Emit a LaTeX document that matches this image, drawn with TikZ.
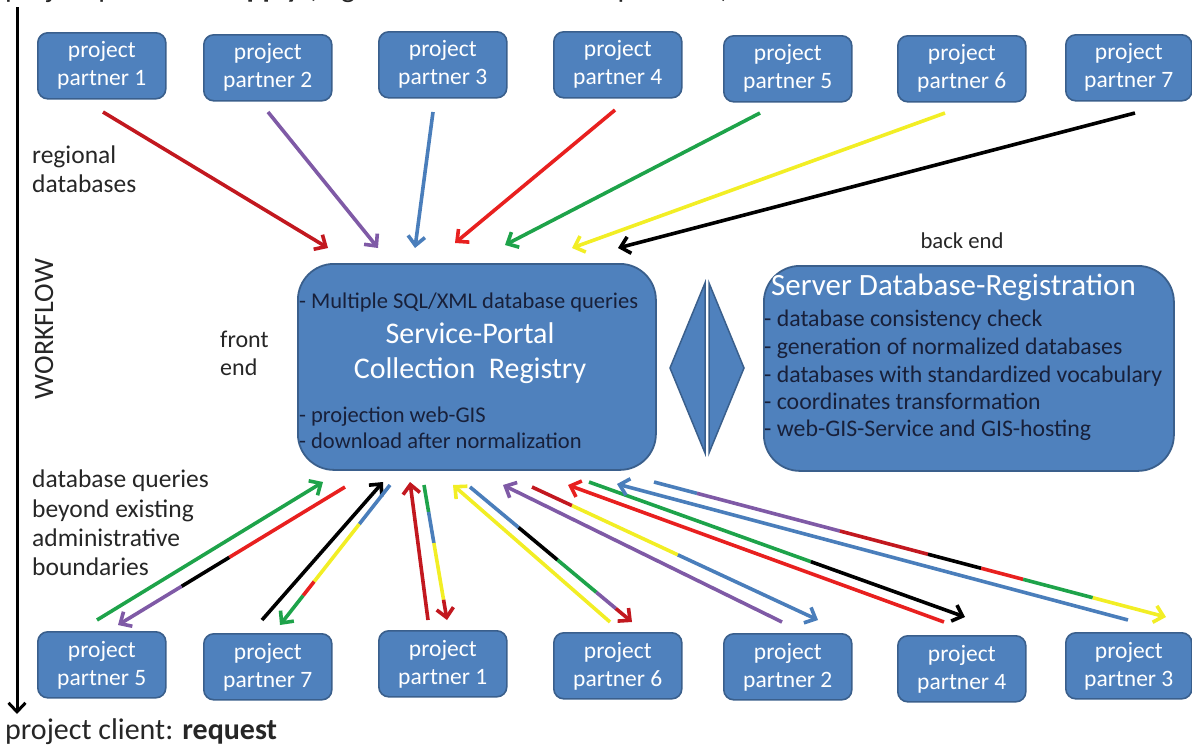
\documentclass[tikz,border=0pt]{standalone}
\usepackage{fontspec}
\setmainfont{Carlito}
\usetikzlibrary{arrows.meta,calc}

\definecolor{boxfill}{HTML}{4F81BD}
\definecolor{boxline}{HTML}{3A5F8C}
\definecolor{navy}{HTML}{18203A}
\definecolor{cred}{HTML}{E8201F}
\definecolor{dred}{HTML}{C2181F}
\definecolor{cpurple}{HTML}{7F5AA6}
\definecolor{cblue}{HTML}{4A7EBB}
\definecolor{cgreen}{HTML}{1EA34A}
\definecolor{cyellow}{HTML}{F2EE25}

% draws a straight connector split into coloured pieces; the last piece carries the head
% #1 start, #2 end, #3 list of from/to/colour pieces, #4 from of last piece, #5 its colour
\newcommand{\piecedarrow}[5]{%
  \foreach \fa/\fb/\col in {#3}{%
    \draw[seg, draw=\col] ($(#1)!\fa!(#2)$) -- ($(#1)!\fb!(#2)$);
  }%
  \draw[flow, draw=#5] ($(#1)!#4!(#2)$) -- (#2);
}

\begin{document}
\begin{tikzpicture}[x=1pt, y=-1pt,
  partner/.style={draw=boxline, line width=1.6pt, fill=boxfill, rounded corners=10pt,
    minimum width=128pt, minimum height=66pt, inner sep=0pt, text=white, align=center,
    font=\fontsize{23.5}{28}\selectfont, anchor=north west},
  bigbox/.style={draw=boxline, line width=1.8pt, fill=boxfill, rounded corners=36pt,
    inner sep=0pt, anchor=north west},
  darktext/.style={text=navy, inner sep=0pt, anchor=base west, font=\fontsize{22.5}{27}\selectfont},
  righttext/.style={text=navy, inner sep=0pt, anchor=base west, font=\fontsize{23.8}{27}\selectfont},
  titletext/.style={text=white, inner sep=0pt, anchor=base, font=\fontsize{30}{34}\selectfont},
  label/.style={text=black!85, inner sep=0pt, anchor=base west, font=\fontsize{25.5}{30}\selectfont},
  seg/.style={line width=3.6pt, line cap=butt},
  flow/.style={line width=3.6pt, -{Straight Barb[length=9pt, width=17pt]}},
  wedge/.style={draw=boxline, line width=1.5pt, fill=boxfill, line join=miter}
]
\useasboundingbox (0,0) rectangle (1192,745);

% heading line (runs over the upper edge) and vertical workflow axis
\node[inner sep=0pt, anchor=base west, font=\fontsize{30}{34}\selectfont, text=black!85] (head) at (5,-3)
  {project partners: \textbf{supply} (regional databases of all partners)};
\coordinate (axtop) at (17,7);
\coordinate (axbot) at (17,714);
\draw[line width=3pt, -{Straight Barb[length=9pt, width=17pt]}] (axtop) -- (axbot);
\node[rotate=90, anchor=base, inner sep=0pt, font=\fontsize{28}{32}\selectfont, text=black!85] (wf) at (53,329) {WORKFLOW};
\node[inner sep=0pt, anchor=base west, font=\fontsize{30}{34}\selectfont, text=black!85] (client) at (5,739)
  {project client: \textbf{request}};

% supplying partners
\node[partner] (t1) at (37,32)   {project\\partner 1};
\node[partner] (t2) at (203,34)  {project\\partner 2};
\node[partner] (t3) at (378,31)  {project\\partner 3};
\node[partner] (t4) at (553,31)  {project\\partner 4};
\node[partner] (t5) at (723,35)  {project\\partner 5};
\node[partner] (t6) at (897,35)  {project\\partner 6};
\node[partner, minimum width=126pt] (t7) at (1065,34) {project\\partner 7};

% requesting partners
\node[partner] (b5) at (37,631)  {project\\partner 5};
\node[partner] (b7) at (203,633) {project\\partner 7};
\node[partner] (b1) at (378,630) {project\\partner 1};
\node[partner] (b6) at (553,632) {project\\partner 6};
\node[partner] (b2) at (723,633) {project\\partner 2};
\node[partner] (b4) at (897,635) {project\\partner 4};
\node[partner, minimum width=126pt] (b3) at (1065,632) {project\\partner 3};

% side labels
\node[label] (reg1) at (32,163) {regional};
\node[label] (reg2) at (32,192) {databases};
\node[label, font=\fontsize{24}{28}\selectfont] (fe1) at (220,347) {front};
\node[label, font=\fontsize{24}{28}\selectfont] (fe2) at (220,375) {end};
\node[label, anchor=base, font=\fontsize{22.7}{27}\selectfont] (be) at (962,248) {back end};
\node[label] (q1) at (32,487) {database queries};
\node[label] (q2) at (32,517) {beyond existing};
\node[label] (q3) at (32,546) {administrative};
\node[label] (q4) at (32,575) {boundaries};

% front end portal
\node[bigbox, minimum width=358pt, minimum height=206pt] (portal) at (297,263) {};
\node[darktext] (p1) at (299,308) {- Multiple SQL/XML database queries};
\node[titletext] (p2) at (470,343) {Service-Portal};
\node[titletext] (p3) at (470,378) {Collection\ \ Registry};
\node[darktext] (p4) at (299,422) {- projection web-GIS};
\node[darktext] (p5) at (299,448) {- download after normalization};

% back end server
\node[bigbox, minimum width=410pt, minimum height=205pt] (server) at (763,265) {};
\node[titletext, anchor=base west, font=\fontsize{31}{34}\selectfont] (s0) at (771,295) {Server Database-Registration};
\node[righttext] (s1) at (764,326) {- database consistency check};
\node[righttext] (s2) at (764,354) {- generation of normalized databases};
\node[righttext] (s3) at (764,382) {- databases with standardized vocabulary};
\node[righttext] (s4) at (764,409) {- coordinates transformation};
\node[righttext] (s5) at (764,436) {- web-GIS-Service and GIS-hosting};

% exchange symbol between front end and back end
\draw[wedge] (670,368) -- (705,283) -- (705,453) -- cycle;
\draw[wedge] (709,283) -- (744,368) -- (709,453) -- cycle;

% regional databases flowing into the portal
\coordinate (u1) at (103,112);  \coordinate (v1) at (328,248);
\coordinate (u2) at (268,112);  \coordinate (v2) at (378,248);
\coordinate (u3) at (433,112);  \coordinate (v3) at (415,248);
\coordinate (u4) at (615,110);  \coordinate (v4) at (455,243);
\coordinate (u5) at (760,113);  \coordinate (v5) at (505,245);
\coordinate (u6) at (945,113);  \coordinate (v6) at (572,248);
\coordinate (u7) at (1135,113); \coordinate (v7) at (618,248);
\draw[flow, draw=dred] (u1) -- (v1);
\draw[flow, draw=cpurple] (u2) -- (v2);
\draw[flow, draw=cblue] (u3) -- (v3);
\draw[flow, draw=cred] (u4) -- (v4);
\draw[flow, draw=cgreen] (u5) -- (v5);
\draw[flow, draw=cyellow] (u6) -- (v6);
\draw[flow, draw=black] (u7) -- (v7);

% queries between the portal and the requesting partners
\coordinate (aS) at (97,620);   \coordinate (aE) at (323,482);
\coordinate (bS) at (345,487);  \coordinate (bE) at (118,625);
\coordinate (cS) at (262,620);  \coordinate (cE) at (383,482);
\coordinate (dS) at (390,485);  \coordinate (dE) at (280,625);
\coordinate (eS) at (428,620);  \coordinate (eE) at (410,482);
\coordinate (fS) at (424,485);  \coordinate (fE) at (447,620);
\coordinate (gS) at (610,622);  \coordinate (gE) at (453,485);
\coordinate (hS) at (470,487);  \coordinate (hE) at (632,622);
\coordinate (iS) at (782,622);  \coordinate (iE) at (503,485);
\coordinate (jS) at (532,487);  \coordinate (jE) at (818,620);
\coordinate (kS) at (944,622);  \coordinate (kE) at (568,485);
\coordinate (lS) at (589,482);  \coordinate (lE) at (965,617);
\coordinate (mS) at (1128,620); \coordinate (mE) at (617,484);
\coordinate (nS) at (654,482);  \coordinate (nE) at (1166,617);

\draw[flow, draw=cgreen] (aS) -- (aE);
\piecedarrow{bS}{bE}{0/0.51/cred, 0.51/0.72/black}{0.72}{cpurple}
\draw[flow, draw=black] (cS) -- (cE);
\piecedarrow{dS}{dE}{0/0.28/cblue, 0.28/0.69/cyellow, 0.69/0.79/cred}{0.79}{cgreen}
\draw[flow, draw=dred] (eS) -- (eE);
\piecedarrow{fS}{fE}{0/0.2/cgreen, 0.2/0.43/cblue, 0.43/0.85/cyellow}{0.85}{dred}
\draw[flow, draw=cyellow] (gS) -- (gE);
\piecedarrow{hS}{hE}{0/0.30/cblue, 0.30/0.54/black, 0.54/0.78/cgreen, 0.78/0.9/cpurple}{0.9}{dred}
\draw[flow, draw=cpurple] (iS) -- (iE);
\piecedarrow{jS}{jE}{0/0.14/dred, 0.14/0.51/cyellow}{0.51}{cblue}
\draw[flow, draw=cred] (kS) -- (kE);
\piecedarrow{lS}{lE}{0/0.59/cgreen}{0.59}{black}
\draw[flow, draw=cblue] (mS) -- (mE);
\piecedarrow{nS}{nE}{0/0.084/cblue, 0.084/0.363/cpurple, 0.363/0.535/dred, 0.535/0.639/black, 0.639/0.721/cred, 0.721/0.857/cgreen}{0.857}{cyellow}
\end{tikzpicture}
\end{document}
